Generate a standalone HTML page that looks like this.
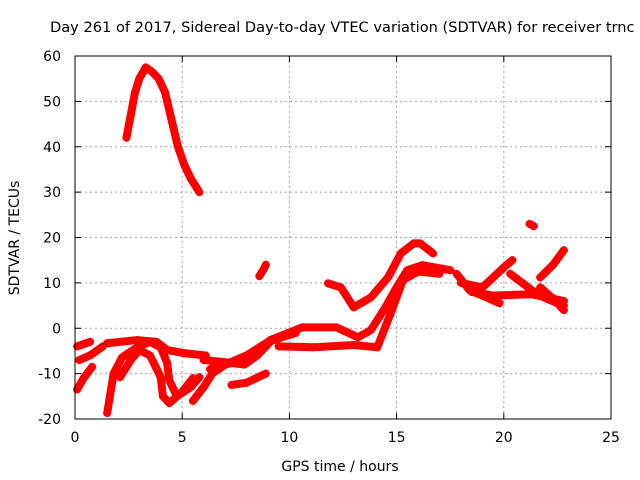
<!DOCTYPE html>
<html><head><meta charset="utf-8"><style>
body{margin:0;background:#fff;overflow:hidden;}
svg{display:block;font-family:"DejaVu Sans","Liberation Sans",sans-serif;}
</style></head><body>
<svg id="chart" width="640" height="480" viewBox="0 0 640 480">
<rect width="640" height="480" fill="#fff"/>
<text x="50" y="32" font-size="14.6" fill="#000">Day 261 of 2017, Sidereal Day-to-day VTEC variation (SDTVAR) for receiver trnc</text>
<g id="grid"></g><g id="marks"></g><g id="axes"></g>
<text x="340" y="471" font-size="14" text-anchor="middle">GPS time / hours</text>
<text transform="translate(19,238) rotate(-90)" font-size="14" text-anchor="middle">SDTVAR / TECUs</text>
</svg>
<script>
const xTicks=[0,5,10,15,20,25];
const yTicks=[-20,-10,0,10,20,30,40,50,60];
const track1=[[2.4,42],[2.6,47],[2.8,52],[3.0,55],[3.3,57.5],[3.6,56.5],[3.9,55],[4.2,52],[4.5,46],[4.8,40],[5.1,36],[5.4,33],[5.8,30]];
const track2=[[8.6,11.5],[8.8,13],[8.9,14]];
const track3=[[21.2,23],[21.4,22.5]];
const track4=[[1.5,-18.7],[1.8,-10],[2.2,-6.4],[2.9,-4.2],[3.5,-3],[4.0,-4.2],[4.3,-7.7],[4.4,-11.5],[4.75,-15],[5.4,-13],[5.8,-10.8]];
const track5=[[2.1,-10.8],[2.6,-7],[3.0,-4.8],[3.5,-6],[4.0,-10.8],[4.1,-15],[4.4,-16.5],[5.0,-14],[5.5,-11]];
const track6=[[1.5,-3.3],[2.9,-2.6],[3.8,-3],[4.3,-4.8],[4.75,-5.2],[5.1,-5.5],[6.1,-6]];
const track7=[[0.1,-4],[0.4,-3.5],[0.7,-3]];
const track8=[[0.1,-13.5],[0.4,-11],[0.8,-8.5]];
const track9=[[0.2,-7],[0.7,-6],[1.3,-4]];
const track10=[[5.5,-16],[6.0,-13],[6.4,-10],[7.0,-8],[7.9,-7]];
const track11=[[6.0,-7],[7.0,-7.5],[7.9,-8],[8.5,-6],[9.1,-3]];
const track12=[[7.3,-12.5],[8.0,-12],[8.9,-10]];
const track13=[[6.3,-9],[7.0,-8],[8.0,-6],[9.0,-3],[10.3,-1]];
const track14=[[9.1,-2.6],[10.6,0.2],[12.2,0.2],[13.2,-2],[13.8,-0.4],[14.4,4],[15.0,9],[15.5,12.8],[16.2,13.9],[17.5,12.8]];
const track15=[[9.5,-4],[11.1,-4.2],[13.0,-3.7],[14.1,-4.2],[14.7,3],[15.3,10.6],[16.0,12.5],[17.0,12]];
const track16=[[11.8,9.9],[12.4,9],[13.0,4.6],[13.8,6.8],[14.6,11.2],[15.2,16.5],[15.8,18.7],[16.1,18.7],[16.7,16.5]];
const track17=[[17.8,12],[18.4,8.4],[19.1,7],[19.8,5.5]];
const track18=[[18.0,10],[19.0,9],[20.0,13.4],[20.4,15]];
const track19=[[18.5,8],[19.5,7.2],[21.3,7.5],[22.8,6]];
const track20=[[20.3,12],[21.5,7.7],[22.0,6.5],[22.8,5]];
const track21=[[21.7,11.2],[22.3,14],[22.8,17.2]];
const track22=[[21.7,9],[22.3,6.5],[22.8,4]];
const tracks=[track1,track2,track3,track4,track5,track6,track7,track8,track9,track10,track11,track12,track13,track14,track15,track16,track17,track18,track19,track20,track21,track22];
const L=75,R=611,T=56,B=419;
const xs=v=>L+(v-0)/(25-0)*(R-L);
const ys=v=>B-(v+20)/80*(B-T);
const NS='http://www.w3.org/2000/svg';
function mk(tag,attrs,parent){const e=document.createElementNS(NS,tag);for(const k in attrs)e.setAttribute(k,attrs[k]);parent.appendChild(e);return e;}
const grid=document.getElementById('grid'),axes=document.getElementById('axes'),marks=document.getElementById('marks');
xTicks.forEach(t=>{
 if(t>0&&t<25){const g=mk('line',{x1:xs(t),x2:xs(t),y1:T,y2:B,stroke:'#a0a0a0','stroke-dasharray':'2,3'},grid);
 
 }
 const tk=mk('line',{x1:xs(t),x2:xs(t),y1:B,y2:B-6,stroke:'#000'},axes);
 
 
 mk('line',{x1:xs(t),x2:xs(t),y1:T,y2:T+6,stroke:'#000'},axes);
 const lb=mk('text',{x:xs(t),y:B+23,'font-size':14,'text-anchor':'middle'},axes);lb.textContent=t;
 
 
});
yTicks.forEach(t=>{
 if(t>-20&&t<60){const g=mk('line',{x1:L,x2:R,y1:ys(t),y2:ys(t),stroke:'#a0a0a0','stroke-dasharray':'2,3'},grid);
 
 }
 const tk=mk('line',{x1:L,x2:L+6,y1:ys(t),y2:ys(t),stroke:'#000'},axes);
 
 
 mk('line',{x1:R,x2:R-6,y1:ys(t),y2:ys(t),stroke:'#000'},axes);
 const lb=mk('text',{x:L-14,y:ys(t)+5,'font-size':14,'text-anchor':'end'},axes);lb.textContent=t;
 
 
});
const frame=mk('rect',{x:L,y:T,width:R-L,height:B-T,fill:'none',stroke:'#000'},axes);


tracks.forEach((tr,i)=>{
 const pl=mk('polyline',{points:tr.map(p=>xs(p[0])+','+ys(p[1])).join(' '),fill:'none',stroke:'#ff0000','stroke-width':8,'stroke-linejoin':'round','stroke-linecap':'round'},marks);
 
 
 tr.forEach(p=>{
  const x=xs(p[0]),y=ys(p[1]);
  const m=mk('path',{d:`M${x-4},${y}H${x+4}M${x},${y-4}V${y+4}`,stroke:'#ff0000','stroke-width':2},marks);
  
  
 });
});
</script>
</body></html>
